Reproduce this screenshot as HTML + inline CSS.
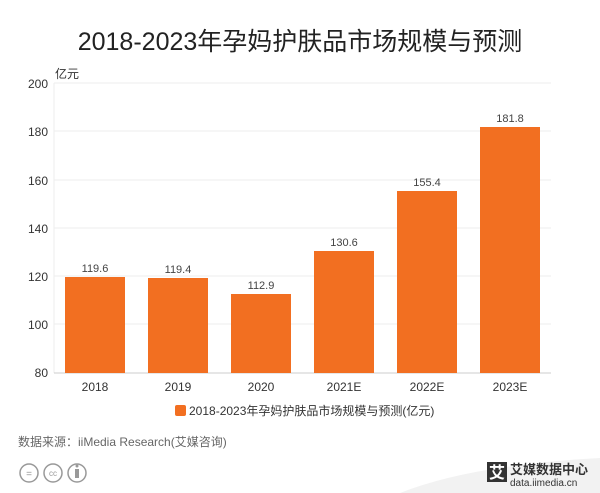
<!DOCTYPE html>
<html><head><meta charset="utf-8"><style>
body{margin:0;width:600px;height:493px;background:#fff;overflow:hidden;font-family:"Liberation Sans","Noto Sans CJK SC",sans-serif;position:relative}
.t{position:absolute;white-space:nowrap}
</style></head><body>
<div class="t" style="left:0;width:600px;text-align:center;top:22px;font-size:25px;color:#222">2018-2023年孕妈护肤品市场规模与预测</div>
<svg width="600" height="493" style="position:absolute;left:0;top:0" font-family="Liberation Sans, Noto Sans CJK SC, sans-serif">
<g stroke="#eee" stroke-width="1">
<line x1="54" y1="83" x2="551" y2="83"/><line x1="54" y1="131" x2="551" y2="131"/>
<line x1="54" y1="180" x2="551" y2="180"/><line x1="54" y1="228" x2="551" y2="228"/>
<line x1="54" y1="276" x2="551" y2="276"/><line x1="54" y1="324" x2="551" y2="324"/>
<line x1="54" y1="83" x2="54" y2="373"/>
</g>
<line x1="54" y1="373" x2="551" y2="373" stroke="#ccc"/>
<g font-size="12" fill="#333" text-anchor="end">
<text x="48" y="88">200</text><text x="48" y="136">180</text><text x="48" y="185">160</text>
<text x="48" y="233">140</text><text x="48" y="281">120</text><text x="48" y="329">100</text><text x="48" y="377">80</text>
</g>
<text x="55" y="78" font-size="12" fill="#333">亿元</text>
<g fill="#f26f21">
<rect x="65" y="277" width="60" height="96"/><rect x="148" y="278" width="60" height="95"/>
<rect x="231" y="294" width="60" height="79"/><rect x="314" y="251" width="60" height="122"/>
<rect x="397" y="191" width="60" height="182"/><rect x="480" y="127" width="60" height="246"/>
</g>
<g font-size="11" fill="#444" text-anchor="middle">
<text x="95" y="272">119.6</text><text x="178" y="273">119.4</text><text x="261" y="289">112.9</text>
<text x="344" y="246">130.6</text><text x="427" y="186">155.4</text><text x="510" y="122">181.8</text>
</g>
<g font-size="12" fill="#333" text-anchor="middle">
<text x="95" y="391">2018</text><text x="178" y="391">2019</text><text x="261" y="391">2020</text>
<text x="344" y="391">2021E</text><text x="427" y="391">2022E</text><text x="510" y="391">2023E</text>
</g>
<rect x="175" y="405" width="11" height="11" rx="2" fill="#f26f21"/>
<text x="189" y="415" font-size="12" fill="#333">2018-2023年孕妈护肤品市场规模与预测(亿元)</text>
<text x="18" y="446" font-size="12" fill="#666">数据来源：iiMedia Research(艾媒咨询)</text>
<g fill="none" stroke="#999" stroke-width="1.5">
<circle cx="29" cy="473" r="9"/><circle cx="53" cy="473" r="9"/><circle cx="77" cy="473" r="9"/>
</g>
<text x="29" y="477" font-size="10" fill="#999" text-anchor="middle">=</text>
<text x="53" y="476" font-size="8" fill="#999" text-anchor="middle">cc</text>
<rect x="75" y="469" width="4" height="9" fill="#999"/><circle cx="77" cy="466" r="1.5" fill="#999"/>
<path d="M400 493 Q470 465 600 458 L600 493Z" fill="#f2f2f2"/>
<rect x="487" y="462" width="20" height="20" fill="#333"/>
<text x="497" y="478" font-size="16" fill="#fff" text-anchor="middle" font-weight="bold">艾</text>
<text x="510" y="474" font-size="13" fill="#333" font-weight="bold">艾媒数据中心</text>
<text x="510" y="486" font-size="10" fill="#333">data.iimedia.cn</text>
</svg>
</body></html>
